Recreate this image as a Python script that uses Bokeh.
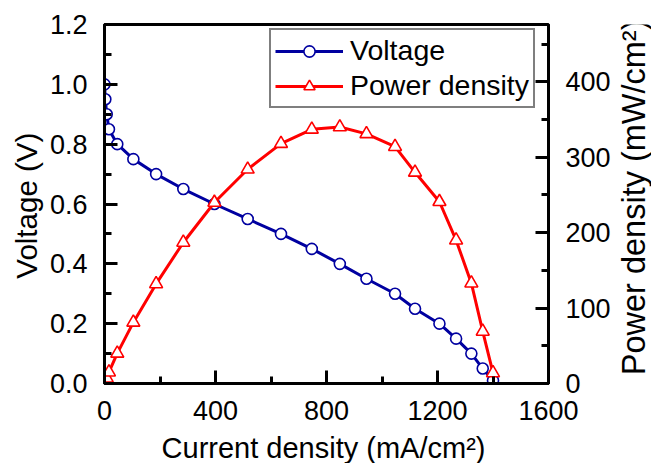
import math
from bokeh.plotting import figure
from bokeh.layouts import row, column
from bokeh.models import (Range1d, LinearAxis, FixedTicker, ColumnDataSource,
                          PrintfTickFormatter, Legend, LegendItem)
from bokeh.core.properties import value
from bokeh.embed import file_html
from bokeh.resources import INLINE

# Polarization and power-density data of the cell
current_density = [0, 3, 8, 16, 46, 104, 186, 284, 396, 516, 636, 747, 848,
                   944, 1047, 1119, 1207, 1267, 1322, 1363, 1400]
voltage = [1.0, 0.95, 0.9, 0.85, 0.8, 0.75, 0.7, 0.65, 0.6, 0.55, 0.5, 0.45,
           0.4, 0.35, 0.3, 0.25, 0.2, 0.15, 0.1, 0.05, 0.01]
power_density = [0, 3, 7, 15, 40, 81, 132, 187, 240, 284, 318, 337, 340,
                 331, 314, 280, 241, 190, 133, 69, 14]

x_ticks = [0, 400, 800, 1200, 1600]
v_ticks = [0.0, 0.2, 0.4, 0.6, 0.8, 1.0, 1.2]
p_ticks = [0, 100, 200, 300, 400]

FONT = "Liberation Sans"
TICK_FS = "27px"
BLUE = "#0000A0"
RED = "#FF0000"

# Layout: [left title | main chart | right title] above a strip with the x title
LEFT_W, RIGHT_W, MAIN_H, BOTTOM_H = 46, 36, 432, 31
MAIN_W = 651 - LEFT_W - RIGHT_W

src = ColumnDataSource(dict(i=current_density, v=voltage, p=power_density))

p = figure(width=MAIN_W, height=MAIN_H, output_backend="svg",
           toolbar_location=None,
           x_range=Range1d(0, 1600), y_range=Range1d(0, 1.2),
           min_border_left=56, min_border_right=67,
           min_border_top=24, min_border_bottom=49,
           background_fill_color="white", border_fill_color="white")
p.extra_y_ranges = {"power": Range1d(0, 476)}
p.grid.visible = False
p.outline_line_color = "black"
p.outline_line_width = 3


def style_axis(ax, ticks, minor, standoff):
    ax.ticker = FixedTicker(ticks=ticks, minor_ticks=minor)
    ax.axis_line_width = 3
    ax.axis_line_color = "black"
    ax.major_tick_line_width = 3
    ax.minor_tick_line_width = 3
    ax.major_tick_in = 13
    ax.major_tick_out = 0
    ax.minor_tick_in = 7
    ax.minor_tick_out = 0
    ax.major_label_text_font = FONT
    ax.major_label_text_font_size = TICK_FS
    ax.major_label_text_color = "black"
    ax.major_label_standoff = standoff


style_axis(p.xaxis[0], x_ticks, list(range(0, 1601, 200)), 17)
style_axis(p.yaxis[0], v_ticks, [round(0.1 * k, 1) for k in range(13)], 17)
p.yaxis[0].formatter = PrintfTickFormatter(format="%.1f")

ra = LinearAxis(y_range_name="power")
style_axis(ra, p_ticks, list(range(0, 476, 50)), 17)
p.add_layout(ra, "right")

# Voltage curve
v_line = p.line("i", "v", source=src, color=BLUE, line_width=3)
v_pts = p.scatter("i", "v", source=src, marker="circle", size=11,
                  line_color=BLUE, line_width=1.6, fill_color="white")

# Power density curve
p_line = p.line("i", "p", source=src, color=RED, line_width=3,
                y_range_name="power")
p_pts = p.scatter("i", "p", source=src, marker="triangle", size=13,
                  line_color=RED, line_width=1.6, fill_color="white",
                  y_range_name="power")

items = [
    LegendItem(label="Voltage", renderers=[v_line, v_pts]),
    LegendItem(label="Power density", renderers=[p_line, p_pts]),
]
lg = Legend(items=items, location=(165, 275))
lg.border_line_color = "black"
lg.border_line_width = 2
lg.background_fill_color = "white"
lg.background_fill_alpha = 1
lg.label_text_font = FONT
lg.label_text_font_size = "28.5px"
lg.label_text_color = "black"
lg.glyph_width = 68
lg.glyph_height = 28
lg.label_standoff = 7
lg.padding = 4
lg.spacing = 2
lg.margin = 0
p.add_layout(lg, "center")


def title_strip(w, h, text, x, y, size, angle):
    """A blank pixel-scaled panel holding one axis title centred on (x, y)."""
    f = figure(width=w, height=h, output_backend="svg", toolbar_location=None,
               x_range=Range1d(0, w), y_range=Range1d(0, h),
               x_axis_type=None, y_axis_type=None, min_border=0,
               background_fill_color="white", border_fill_color="white")
    f.outline_line_color = None
    f.text(x=[x], y=[y], text=[text], angle=angle,
           text_font=value(FONT), text_font_size=value(size),
           text_color="black", text_align="center", text_baseline="middle")
    return f


left = title_strip(LEFT_W, MAIN_H, "Voltage (V)", 26, MAIN_H - 218,
                   "29.5px", math.pi / 2)
right = title_strip(RIGHT_W, MAIN_H, "Power density (mW/cm²)", 18,
                    MAIN_H - 208, "32.5px", math.pi / 2)
bottom = title_strip(651, BOTTOM_H, "Current density (mA/cm²)", 323, 16,
                     "29px", 0)

layout = column(row(left, p, right, spacing=0), bottom, spacing=0)

open("out.html", "w").write(file_html(layout, INLINE))
